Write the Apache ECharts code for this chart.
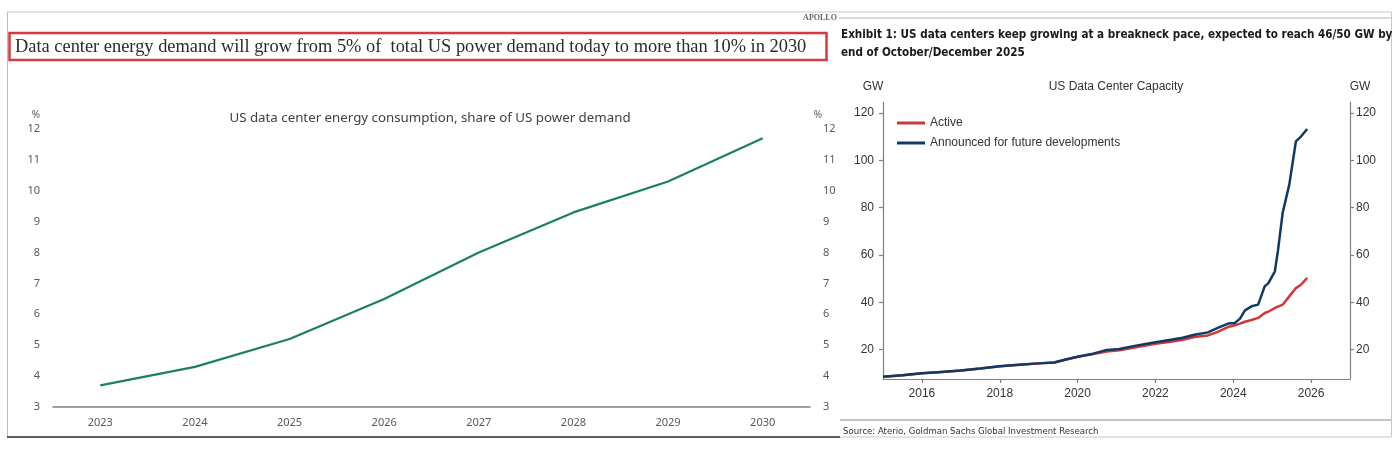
<!DOCTYPE html>
<html><head><meta charset="utf-8">
<script src="https://cdn.jsdelivr.net/npm/echarts@6/dist/echarts.min.js"></script>
<style>html,body{margin:0;padding:0;background:#fff}#c{width:1398px;height:451px}</style>
</head><body><div id="c"></div>
<script>
// Left panel: US data center energy consumption, share of US power demand (%)
const shareYears = ['2023', '2024', '2025', '2026', '2027', '2028', '2029', '2030'];
const sharePct = [3.7, 4.3, 5.2, 6.5, 8.0, 9.3, 10.3, 11.7];

// Right panel: US Data Center Capacity (GW), dates as decimal years
const capDates = [2015.0, 2015.5, 2016.0, 2016.5, 2017.0, 2017.5, 2018.0, 2018.5, 2019.0, 2019.4, 2019.7,
  2020.0, 2020.4, 2020.75, 2021.07, 2021.5, 2022.0, 2022.4, 2022.7, 2023.0, 2023.35, 2023.6, 2023.87,
  2024.04, 2024.17, 2024.3, 2024.47, 2024.64, 2024.81, 2024.9, 2025.07, 2025.15, 2025.27, 2025.44,
  2025.61, 2025.74, 2025.9];
const activeGW = [8.6, 9.2, 10.0, 10.6, 11.2, 12.0, 13.0, 13.6, 14.2, 14.6, 15.8,
  17.0, 18.2, 19.2, 19.7, 21.0, 22.5, 23.3, 24.2, 25.3, 26.0, 27.5, 29.6,
  30.3, 31.0, 31.8, 32.5, 33.4, 35.5, 36.0, 37.6, 38.2, 39.0, 42.5,
  46.0, 47.4, 50.3];
const announcedGW = [8.6, 9.2, 10.0, 10.6, 11.2, 12.0, 13.0, 13.6, 14.2, 14.6, 15.8,
  17.0, 18.3, 19.9, 20.3, 21.7, 23.1, 24.2, 25.0, 26.3, 27.3, 29.2, 31.0,
  31.3, 33.0, 36.6, 38.3, 39.0, 46.8, 48.0, 53.1, 62.0, 77.8, 89.7,
  108.0, 110.0, 113.2];
const capTicks = [20, 40, 60, 80, 100, 120];
const capYearTicks = [2016, 2018, 2020, 2022, 2024, 2026];

const pair = (xs, ys) => xs.map((x, i) => [x, ys[i]]);

const chart = echarts.init(document.getElementById('c'));

const NARROW = '"DejaVu Sans Condensed", "Liberation Sans Narrow", "Arial Narrow", sans-serif';
const leftLabel = { color: '#595959', fontSize: 11, fontFamily: 'Noto Sans' };
const rightLabel = { color: '#333', fontSize: 12, fontFamily: 'Liberation Sans' };
const grayLine = { color: '#808080', width: 1.2 };

function gLine(x1, y1, x2, y2, color, w) {
  return { type: 'line', shape: { x1, y1, x2, y2 }, style: { stroke: color, lineWidth: w }, silent: true };
}
function gText(x, y, text, font, fill, align) {
  return { type: 'text', x, y, style: { text, font, fill, align: align || 'left', verticalAlign: 'middle' }, silent: true };
}

chart.setOption({
  animation: false,
  backgroundColor: '#fff',
  grid: [
    { left: 53, right: 588, top: 129, bottom: 44 },
    { left: 883, right: 48, top: 102, bottom: 72 }
  ],
  xAxis: [
    {
      gridIndex: 0, type: 'category', data: shareYears, boundaryGap: true,
      axisLine: { lineStyle: { color: '#808080', width: 1.5 } },
      axisTick: { show: false },
      axisLabel: Object.assign({ margin: 10 }, leftLabel),
      splitLine: { show: false }
    },
    {
      gridIndex: 1, type: 'value', min: 2015, max: 2027,
      axisLine: { lineStyle: grayLine },
      axisTick: { show: true, length: 4, customValues: capYearTicks, lineStyle: grayLine },
      axisLabel: Object.assign({ margin: 9, customValues: capYearTicks, formatter: v => String(v) }, rightLabel),
      splitLine: { show: false }
    }
  ],
  yAxis: [
    {
      gridIndex: 0, type: 'value', position: 'left', min: 3, max: 12, interval: 1,
      axisLine: { show: false }, axisTick: { show: false }, splitLine: { show: false },
      axisLabel: Object.assign({ margin: 13 }, leftLabel)
    },
    {
      gridIndex: 0, type: 'value', position: 'right', min: 3, max: 12, interval: 1,
      axisLine: { show: false }, axisTick: { show: false }, splitLine: { show: false },
      axisLabel: Object.assign({ margin: 13 }, leftLabel)
    },
    {
      gridIndex: 1, type: 'value', position: 'left', min: 7.6, max: 124.6,
      axisLine: { show: true, lineStyle: grayLine },
      axisTick: { show: true, length: 4, customValues: capTicks, lineStyle: grayLine },
      axisLabel: Object.assign({ margin: 9, customValues: capTicks }, rightLabel),
      splitLine: { show: false }
    },
    {
      gridIndex: 1, type: 'value', position: 'right', min: 7.6, max: 124.6,
      axisLine: { show: true, lineStyle: grayLine },
      axisTick: { show: true, length: 4, customValues: capTicks, lineStyle: grayLine },
      axisLabel: Object.assign({ margin: 6, customValues: capTicks }, rightLabel),
      splitLine: { show: false }
    }
  ],
  legend: {
    left: 892, top: 112, orient: 'vertical', itemGap: 8, itemWidth: 28, itemHeight: 3, icon: 'rect',
    textStyle: { color: '#333', fontSize: 12, fontFamily: 'Liberation Sans' },
    data: ['Active', 'Announced for future developments']
  },
  series: [
    {
      name: 'Share of US power demand', type: 'line', xAxisIndex: 0, yAxisIndex: 0,
      data: sharePct, symbol: 'none', lineStyle: { color: '#1b7f66', width: 2.2 }, itemStyle: { color: '#1b7f66' }
    },
    {
      name: 'Active', type: 'line', xAxisIndex: 1, yAxisIndex: 2,
      data: pair(capDates, activeGW), symbol: 'none',
      lineStyle: { color: '#d1363a', width: 2.5 }, itemStyle: { color: '#d1363a' }
    },
    {
      name: 'Announced for future developments', type: 'line', xAxisIndex: 1, yAxisIndex: 2,
      data: pair(capDates, announcedGW), symbol: 'none',
      lineStyle: { color: '#0e3b66', width: 2.5 }, itemStyle: { color: '#0e3b66' }
    }
  ],
  graphic: [
    // frames
    gLine(7, 12, 1391, 12, '#c8c8c8', 1),
    gLine(7.5, 12, 7.5, 437, '#bdbdbd', 1),
    gLine(7, 437, 840, 437, '#2a2a2a', 1.5),
    gLine(840, 437, 1391, 437, '#c8c8c8', 1),
    gLine(1391.5, 12, 1391.5, 437, '#c8c8c8', 1),
    gLine(839, 18, 1391, 18, '#b5b5b5', 1),
    gLine(840, 420, 1391, 420, '#c4c4c4', 2),
    // red boxed headline
    { type: 'rect', shape: { x: 9.5, y: 33, width: 817, height: 27 }, style: { fill: 'none', stroke: '#d43a40', lineWidth: 2.5 }, silent: true },
    gText(15, 47, 'Data center energy demand will grow from 5% of  total US power demand today to more than 10% in 2030', '18.4px "Liberation Serif"', '#2b2b2b'),
    // left chart title and units
    gText(430, 118, 'US data center energy consumption, share of US power demand', '13.3px "Noto Sans"', '#404040', 'center'),
    gText(36, 115, '%', '10px "Noto Sans"', '#595959', 'center'),
    gText(818, 115, '%', '10px "Noto Sans"', '#595959', 'center'),
    // right panel header
    gText(820, 18, 'APOLLO', 'bold 8px "Liberation Serif"', '#666', 'center'),
    gText(841, 35, 'Exhibit 1: US data centers keep growing at a breakneck pace, expected to reach 46/50 GW by', 'bold 11.6px ' + NARROW, '#1a1a1a'),
    gText(841, 53, 'end of October/December 2025', 'bold 11.6px ' + NARROW, '#1a1a1a'),
    gText(873, 87, 'GW', '12px "Liberation Sans"', '#333', 'center'),
    gText(1360, 87, 'GW', '12px "Liberation Sans"', '#333', 'center'),
    gText(1116, 87, 'US Data Center Capacity', '12px "Liberation Sans"', '#333', 'center'),
    gText(843, 432, 'Source: Aterio, Goldman Sachs Global Investment Research', '9.5px ' + NARROW, '#333')
  ]
});
</script></body></html>
